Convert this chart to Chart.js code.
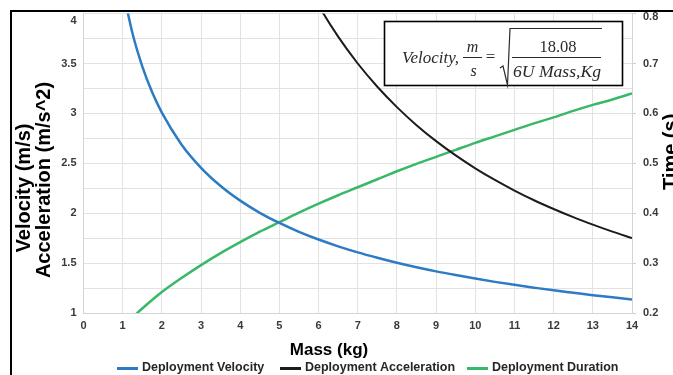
<!DOCTYPE html>
<html><head><meta charset="utf-8">
<script src="https://cdn.jsdelivr.net/npm/chart.js@4.4.1/dist/chart.umd.min.js"></script>
<style>html,body{margin:0;padding:0;background:#fff}#wrap{width:673px;height:375px;position:relative}</style>
</head><body><div id="wrap"><canvas id="c"></canvas></div>
<script>
// ---- data ----
const velocityMass   = [1, 1.25, 1.5, 1.75, 2, 2.5, 3, 3.5, 4, 4.5, 5, 5.5, 6, 6.5, 7, 7.5, 8, 8.5, 9, 9.5, 10, 10.5, 11, 11.5, 12, 12.5, 13, 13.5, 14];
const velocityValues = [4.252, 3.803, 3.472, 3.214, 3.007, 2.689, 2.455, 2.273, 2.126, 2.004, 1.902, 1.813, 1.736, 1.668, 1.607, 1.553, 1.503, 1.458, 1.417, 1.380, 1.345, 1.312, 1.282, 1.254, 1.227, 1.203, 1.179, 1.157, 1.136];
const accelerationMass   = [5, 5.5, 6, 6.5, 7, 7.5, 8, 8.5, 9, 9.5, 10, 10.5, 11, 11.5, 12, 12.5, 13, 13.5, 14];
const accelerationValues = [4.900, 4.455, 4.083, 3.769, 3.500, 3.267, 3.063, 2.882, 2.722, 2.579, 2.450, 2.333, 2.227, 2.130, 2.042, 1.960, 1.885, 1.815, 1.750];
const durationMass   = [1, 1.25, 1.5, 1.75, 2, 2.5, 3, 3.5, 4, 4.5, 5, 5.5, 6, 6.5, 7, 7.5, 8, 8.5, 9, 9.5, 10, 10.5, 11, 11.5, 12, 12.5, 13, 13.5, 14];
const durationValues = [0.171, 0.191, 0.209, 0.226, 0.242, 0.270, 0.296, 0.320, 0.342, 0.363, 0.382, 0.401, 0.419, 0.436, 0.452, 0.468, 0.484, 0.499, 0.513, 0.527, 0.541, 0.554, 0.567, 0.580, 0.592, 0.605, 0.617, 0.628, 0.640];
const seriesLabels = ['Deployment Velocity', 'Deployment Acceleration', 'Deployment Duration'];
const leftTickLabels  = ['1', '1.5', '2', '2.5', '3', '3.5', '4'];
const rightTickLabels = ['0.2', '0.3', '0.4', '0.5', '0.6', '0.7', '0.8'];
const xTitle = 'Mass (kg)';
const yTitleLines = ['Velocity (m/s)', 'Acceleration (m/s^2)'];
const y2Title = 'Time (s)';

// ---- styling ----
const COLORS = ['#2d7cc3', '#1c1c1c', '#38b868'];
const TICK_COLOR = '#3a3a3a';
const GRID = '#e2e2e2';
const SANS = '"Liberation Sans", Arial, sans-serif';
const SERIF = '"Liberation Serif", "DejaVu Serif", serif';

const pts = (xs, ys) => xs.map((x, i) => ({x, y: ys[i]}));

const deco = {
  id: 'deco',
  beforeDraw(chart) {
    const c = chart.ctx; c.save(); c.fillStyle = '#fff'; c.fillRect(0, 0, chart.width, chart.height); c.restore();
  },
  afterDraw(chart) {
    const c = chart.ctx;
    c.save();
    // top tick labels (offset like the reference)
    c.font = 'bold 11px ' + SANS; c.fillStyle = TICK_COLOR; c.textBaseline = 'middle';
    c.textAlign = 'right'; c.fillText(leftTickLabels[leftTickLabels.length - 1], 76.5, 20.5);
    c.textAlign = 'left'; c.fillText(rightTickLabels[rightTickLabels.length - 1], 643, 17);

    // x title
    c.fillStyle = '#000'; c.font = 'bold 17px ' + SANS; c.textAlign = 'center'; c.textBaseline = 'alphabetic';
    c.fillText(xTitle, 329, 355);

    // y title (two lines)
    c.font = 'bold 20px ' + SANS;
    c.save(); c.translate(29.5, 188); c.rotate(-Math.PI / 2); c.fillText(yTitleLines[0], 0, 0); c.restore();
    c.save(); c.translate(49.5, 180); c.rotate(-Math.PI / 2); c.fillText(yTitleLines[1], 0, 0); c.restore();

    // right title (partly cut by the edge)
    c.save(); c.translate(677, 190); c.rotate(-Math.PI / 2); c.textAlign = 'left'; c.fillText(y2Title, 0, 0); c.restore();

    // legend
    const lx = [117, 280, 467];
    c.font = 'bold 12.5px ' + SANS; c.textAlign = 'left'; c.textBaseline = 'middle';
    chart.data.datasets.forEach((ds, i) => {
      c.strokeStyle = ds.borderColor; c.lineWidth = 3; c.beginPath();
      c.moveTo(lx[i], 368.5); c.lineTo(lx[i] + 21, 368.5); c.stroke();
      c.fillStyle = '#262626'; c.fillText(ds.label, lx[i] + 25, 368);
    });

    // equation box
    c.fillStyle = '#fff'; c.fillRect(384, 21, 239, 65);
    c.strokeStyle = '#000'; c.lineWidth = 1.6; c.strokeRect(384.5, 21.5, 238, 64);
    c.fillStyle = '#2a2a2a'; c.strokeStyle = '#2a2a2a';
    c.textBaseline = 'alphabetic';
    c.font = 'italic 17px ' + SERIF; c.textAlign = 'left';
    c.fillText('Velocity,', 402, 63);
    c.textAlign = 'center';
    c.font = 'italic 16px ' + SERIF;
    c.fillText('m', 472.5, 51.5);
    c.fillText('s', 473.5, 75.5);
    c.lineWidth = 1; c.beginPath(); c.moveTo(463, 57.5); c.lineTo(482, 57.5); c.stroke();
    c.font = '17px ' + SERIF; c.fillText('=', 490.5, 62);
    c.lineWidth = 1.2; c.beginPath();
    c.moveTo(500, 68); c.lineTo(503, 66); c.lineTo(507.5, 85); c.lineTo(510, 28.5); c.lineTo(602, 28.5); c.stroke();
    c.font = '16.5px ' + SERIF; c.fillText('18.08', 558, 51.5);
    c.lineWidth = 1; c.beginPath(); c.moveTo(512, 57.5); c.lineTo(601, 57.5); c.stroke();
    c.font = 'italic 17px ' + SERIF;
    const t = '6U Mass,Kg'; const w = c.measureText(t).width;
    c.save(); c.translate(557, 76.5); c.scale(88 / w, 1); c.fillText(t, 0, 0); c.restore();

    // outer frame
    c.strokeStyle = '#000'; c.lineWidth = 2; c.beginPath();
    c.moveTo(11, 375); c.lineTo(11, 11); c.lineTo(673, 11); c.stroke();
    c.restore();
  }
};

new Chart(document.getElementById('c'), {
  type: 'scatter',
  data: {
    datasets: [
      {label: seriesLabels[0], data: pts(velocityMass, velocityValues), yAxisID: 'y', borderColor: COLORS[0], backgroundColor: COLORS[0], borderWidth: 2.5},
      {label: seriesLabels[1], data: pts(accelerationMass, accelerationValues), yAxisID: 'y', borderColor: COLORS[1], backgroundColor: COLORS[1], borderWidth: 2},
      {label: seriesLabels[2], data: pts(durationMass, durationValues), yAxisID: 'y2', borderColor: COLORS[2], backgroundColor: COLORS[2], borderWidth: 2.5}
    ]
  },
  options: {
    responsive: true, maintainAspectRatio: false, animation: false,
    devicePixelRatio: 1,
    layout: {padding: {top: 12.7, left: 0, right: 0, bottom: 0}},
    elements: {point: {radius: 0, hoverRadius: 0}, line: {cubicInterpolationMode: 'monotone', fill: false}},
    datasets: {scatter: {showLine: true}},
    plugins: {legend: {display: false}, tooltip: {enabled: false}},
    scales: {
      x: {
        type: 'linear', min: 0, max: 14,
        afterFit: s => { s.height = 62; },
        ticks: {stepSize: 1, padding: 6, color: TICK_COLOR, font: {family: SANS, size: 11, weight: 'bold'}, maxRotation: 0},
        grid: {color: GRID, drawTicks: false},
        border: {color: '#d4d4d4'}
      },
      y: {
        position: 'left', min: 1, max: 4,
        afterFit: s => { s.width = 83.5; },
        ticks: {stepSize: 0.25, padding: 7, color: TICK_COLOR, font: {family: SANS, size: 11, weight: 'bold'},
          callback: v => { const s = String(Math.round(v * 100) / 100); return (leftTickLabels.includes(s) && s !== leftTickLabels[leftTickLabels.length - 1]) ? s : ''; }},
        grid: {color: GRID, drawTicks: false},
        border: {color: '#d4d4d4'}
      },
      y2: {
        position: 'right', min: 0.2, max: 0.8,
        afterFit: s => { s.width = 41; },
        ticks: {stepSize: 0.1, padding: 7, color: TICK_COLOR, font: {family: SANS, size: 11, weight: 'bold'},
          callback: v => { const s = v.toFixed(1); return (rightTickLabels.includes(s) && s !== rightTickLabels[rightTickLabels.length - 1]) ? s : ''; }},
        grid: {drawOnChartArea: false, color: '#cfcfcf', tickLength: 4},
        border: {color: '#d4d4d4'}
      }
    }
  },
  plugins: [deco]
});
</script></body></html>
